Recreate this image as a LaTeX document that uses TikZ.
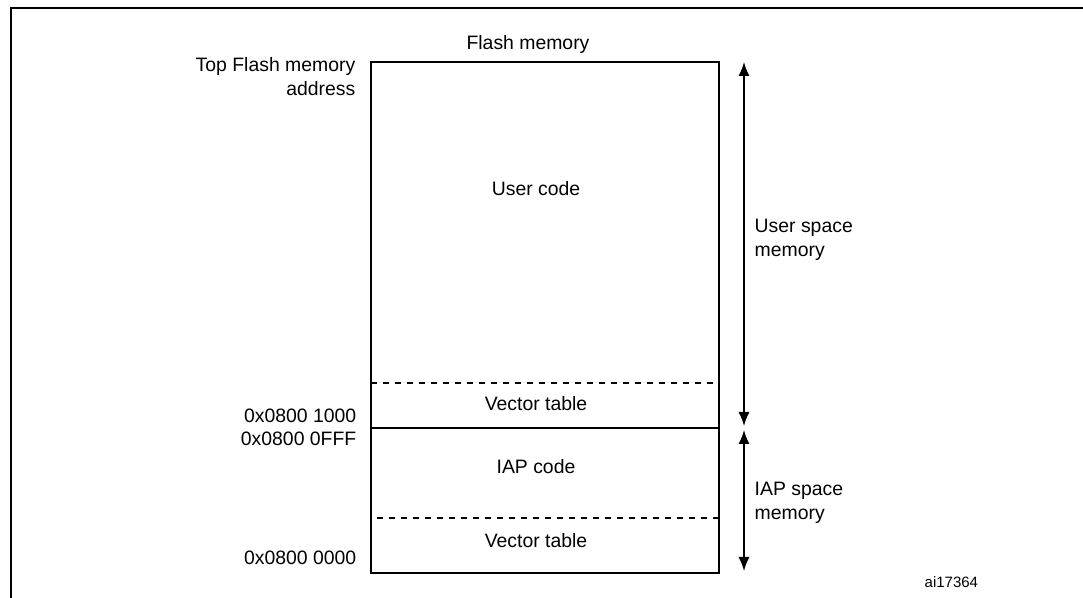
\documentclass[tikz,border=0pt]{standalone}
\usepackage{fontspec}
\setmainfont{Liberation Sans}
\usetikzlibrary{arrows.meta,positioning,calc}

\begin{document}
\begin{tikzpicture}[x=0.5pt,y=-0.5pt,>={Latex[length=7pt,width=5.5pt]},
			line width=0.7pt,font=\fontsize{9.7}{12}\selectfont]
			\tikzstyle{region}=[minimum width=174pt,inner sep=0pt,outer sep=0pt]
			\tikzstyle{txt}=[anchor=base,inner sep=0pt]
			\tikzstyle{addr}=[anchor=base east,inner sep=0pt]
			\tikzstyle{side}=[anchor=base west,inner sep=0pt,align=left]
			\useasboundingbox (0,0) rectangle (1083,598);
			\draw[line width=1.2pt] (11,598) -- (11,8) -- (1083,8);
			
			\node[region, minimum height=160.5pt, anchor=north west] (user) at (371,62) {};
			\node[region, minimum height=22.5pt, below=0pt of user] (vtu) {};
			\node[region, minimum height=45pt, below=0pt of vtu] (iap) {};
			\node[region, minimum height=27.5pt, below=0pt of iap] (vti) {};
			
			\draw (user.north west) rectangle (vti.south east);
			\draw[dashed] (user.south west) -- (user.south east);
			\draw (vtu.south west) -- (vtu.south east);
			\draw[dashed] ($(iap.south west)+(6,0)$) -- (iap.south east);
			
			\node[txt] (flash) at ($(user.north)+(-17,-12)$) {Flash memory};
			\node[txt] (usertxt) at ($(user.north)+(-9,134)$) {User code};
			\node[txt] (vtutxt) at ($(vtu.south)+(-9,-17)$) {Vector table};
			\node[txt] (iaptxt) at ($(iap.center)+(-9,1)$) {IAP code};
			\node[txt] (vtitxt) at ($(vti.south)+(-9,-25)$) {Vector table};
			
			\node[addr, align=right] (top) at ($(user.north west)+(-15,34)$) {Top Flash memory\\address};
			\node[addr] (a1000) at ($(vtu.south west)+(-14,-5)$) {0x0800 1000};
			\node[addr] (a0fff) at ($(vtu.south west)+(-14,18)$) {0x0800 0FFF};
			\node[addr] (a0000) at ($(vti.south west)+(-14,-8)$) {0x0800 0000};
			
			\coordinate (ua) at ($(user.north east)+(25,0)$);
			\coordinate (ub) at ($(vtu.south east)+(25,-2)$);
			\coordinate (ia) at ($(iap.north east)+(25,2)$);
			\coordinate (ib) at ($(vti.south east)+(25,-2)$);
			\draw[<->] (ua) -- (ub);
			\draw[<->] (ia) -- (ib);
			
			\node[side] (usp) at ($(user.east)+(35,34)$) {User space\\memory};
			\node[side] (isp) at ($(iap.south east)+(35,2)$) {IAP space\\memory};
			\node[anchor=base west, inner sep=0pt, font=\fontsize{7.5}{9}\selectfont] (fig) at (924,588) {ai17364};
			
			\end{tikzpicture}
\end{document}
